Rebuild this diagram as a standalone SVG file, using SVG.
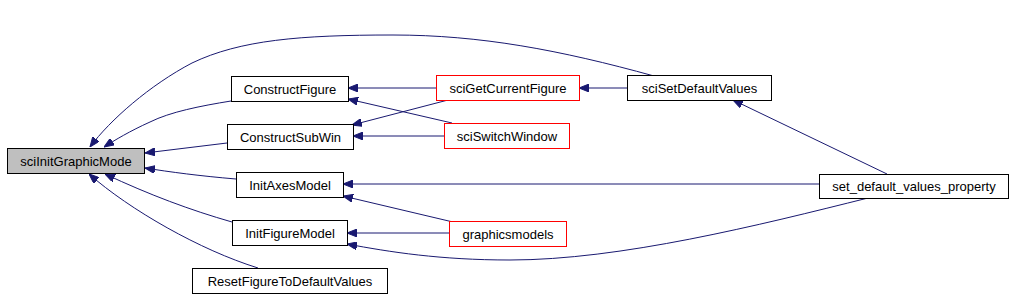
<svg xmlns="http://www.w3.org/2000/svg" width="1015" height="297" viewBox="0 0 1015 297">
<style>
.n rect{fill:#fff;stroke:#000;stroke-width:1}
.n.red rect{stroke:#ff0000}
.n.root rect{fill:#bfbfbf}
.n text{font-family:"Liberation Sans",Arial,sans-serif;font-size:13px;fill:#000;text-anchor:middle}
#edges path{fill:none;stroke:#191970;stroke-width:1;marker-end:url(#ah)}
</style>
<defs>
<marker id="ah" markerWidth="10" markerHeight="8" refX="10" refY="4" orient="auto" markerUnits="userSpaceOnUse">
<path d="M0,0 L10,4 L0,8 z" fill="#191970" stroke="#191970"/>
</marker>
</defs>
<rect width="1015" height="297" fill="#fff"/>
<g id="edges">
<path d="M654,76 C560,50 480,35 393,35 C300,35 240,40 192,63 C150,85 110,120 90,147"/>
<path d="M231,101 C200,106 170,112 150,122 C130,131 115,140 104,147"/>
<path d="M227,143 L145,153"/>
<path d="M236,179 C200,176 170,172 145,168"/>
<path d="M232,222 C190,210 150,195 105,174"/>
<path d="M258,268 C200,250 130,210 89,174"/>
<path d="M436,88 L348,88"/>
<path d="M452,123 L348,99"/>
<path d="M448,100 L352,125"/>
<path d="M444,136 L353,136"/>
<path d="M627,88 L579,88"/>
<path d="M887,174 L733,100"/>
<path d="M819,184 L343,184"/>
<path d="M868,198 C760,225 620,260 510,260 C440,260 390,252 347,244"/>
<path d="M453,222 L343,196"/>
<path d="M449,233 L347,233"/>
</g>
<g id="sciInitGraphicMode" class="n root"><rect x="7.5" y="148.5" width="137" height="25"/><text x="76" y="165.5">sciInitGraphicMode</text></g>
<g id="ConstructFigure" class="n"><rect x="231.5" y="76.5" width="117" height="25"/><text x="290" y="93.5">ConstructFigure</text></g>
<g id="ConstructSubWin" class="n"><rect x="227.5" y="124.5" width="126" height="25"/><text x="290.5" y="141.5">ConstructSubWin</text></g>
<g id="InitAxesModel" class="n"><rect x="236.5" y="172.5" width="107" height="25"/><text x="290" y="189.5">InitAxesModel</text></g>
<g id="InitFigureModel" class="n"><rect x="232.5" y="220.5" width="115" height="25"/><text x="290" y="237.5">InitFigureModel</text></g>
<g id="ResetFigureToDefaultValues" class="n"><rect x="192.5" y="268.5" width="195" height="25"/><text x="290" y="285.5">ResetFigureToDefaultValues</text></g>
<g id="sciGetCurrentFigure" class="n red"><rect x="436.5" y="75.5" width="143" height="25"/><text x="508" y="92.5">sciGetCurrentFigure</text></g>
<g id="sciSwitchWindow" class="n red"><rect x="444.5" y="123.5" width="125" height="25"/><text x="507" y="140.5">sciSwitchWindow</text></g>
<g id="graphicsmodels" class="n red"><rect x="449.5" y="221.5" width="117" height="25"/><text x="508" y="238.5">graphicsmodels</text></g>
<g id="sciSetDefaultValues" class="n"><rect x="627.5" y="75.5" width="144" height="25"/><text x="699.5" y="92.5">sciSetDefaultValues</text></g>
<g id="set_default_values_property" class="n"><rect x="819.5" y="174.5" width="189" height="24"/><text x="914" y="191">set_default_values_property</text></g>
</svg>
